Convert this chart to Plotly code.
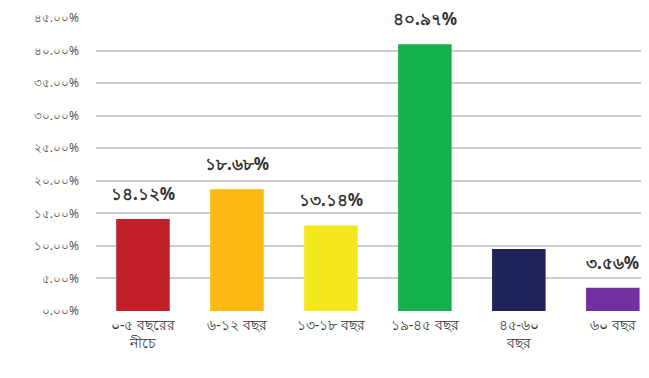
import plotly.graph_objects as go

# Age-group share data
categories = ["০-৫ বছরের<br>নীচে", "৬-১২ বছর", "১৩-১৮ বছর", "১৯-৪৫ বছর", "৪৫-৬০<br>বছর", "৬০ বছর"]
values = [14.12, 18.68, 13.14, 40.97, 9.53, 3.56]
value_labels = ["১৪.১২%", "১৮.৬৮%", "১৩.১৪%", "৪০.৯৭%", "", "৩.৫৬%"]
bar_colors = ["#c1202a", "#fdb813", "#f4e81c", "#13b04b", "#20245a", "#7030a0"]
tick_vals = [0, 5, 10, 15, 20, 25, 30, 35, 40, 45]
tick_text = ["০.০০%", "৫.০০%", "১০.০০%", "১৫.০০%", "২০.০০%", "২৫.০০%",
             "৩০.০০%", "৩৫.০০%", "৪০.০০%", "৪৫.০০%"]

x_pos = list(range(len(categories)))

fig = go.Figure(go.Bar(
    x=x_pos,
    y=values,
    marker=dict(color=bar_colors, line=dict(width=0)),
    width=0.57,
))

# value labels floating above each bar
for xi, yi, lab in zip(x_pos, values, value_labels):
    if lab:
        fig.add_annotation(
            x=xi, y=yi, text=f"<b>{lab}</b>", showarrow=False,
            yanchor="bottom", yshift=12,
            font=dict(size=17, color="#333333", family="Noto Sans, DejaVu Sans"),
        )

fig.update_layout(
    width=649, height=378,
    margin=dict(l=96, r=8, t=18, b=67),
    paper_bgcolor="white", plot_bgcolor="white",
    showlegend=False,
    font=dict(family="Noto Sans, DejaVu Sans", color="#333333"),
    xaxis=dict(
        tickmode="array",
        tickvals=x_pos,
        ticktext=categories,
        range=[-0.5, 5.3],
        showgrid=False, zeroline=False, showline=False,
        tickfont=dict(size=14, color="#333333"),
        ticklabelstandoff=4,
    ),
    yaxis=dict(
        range=[0, 45],
        tickmode="array",
        tickvals=tick_vals,
        ticktext=tick_text,
        showgrid=True, gridcolor="#cccccc", gridwidth=2,
        zeroline=False, showline=False,
        tickfont=dict(size=12, color="#555555"),
        ticklabelstandoff=16,
    ),
)

fig.write_html("out.html")
